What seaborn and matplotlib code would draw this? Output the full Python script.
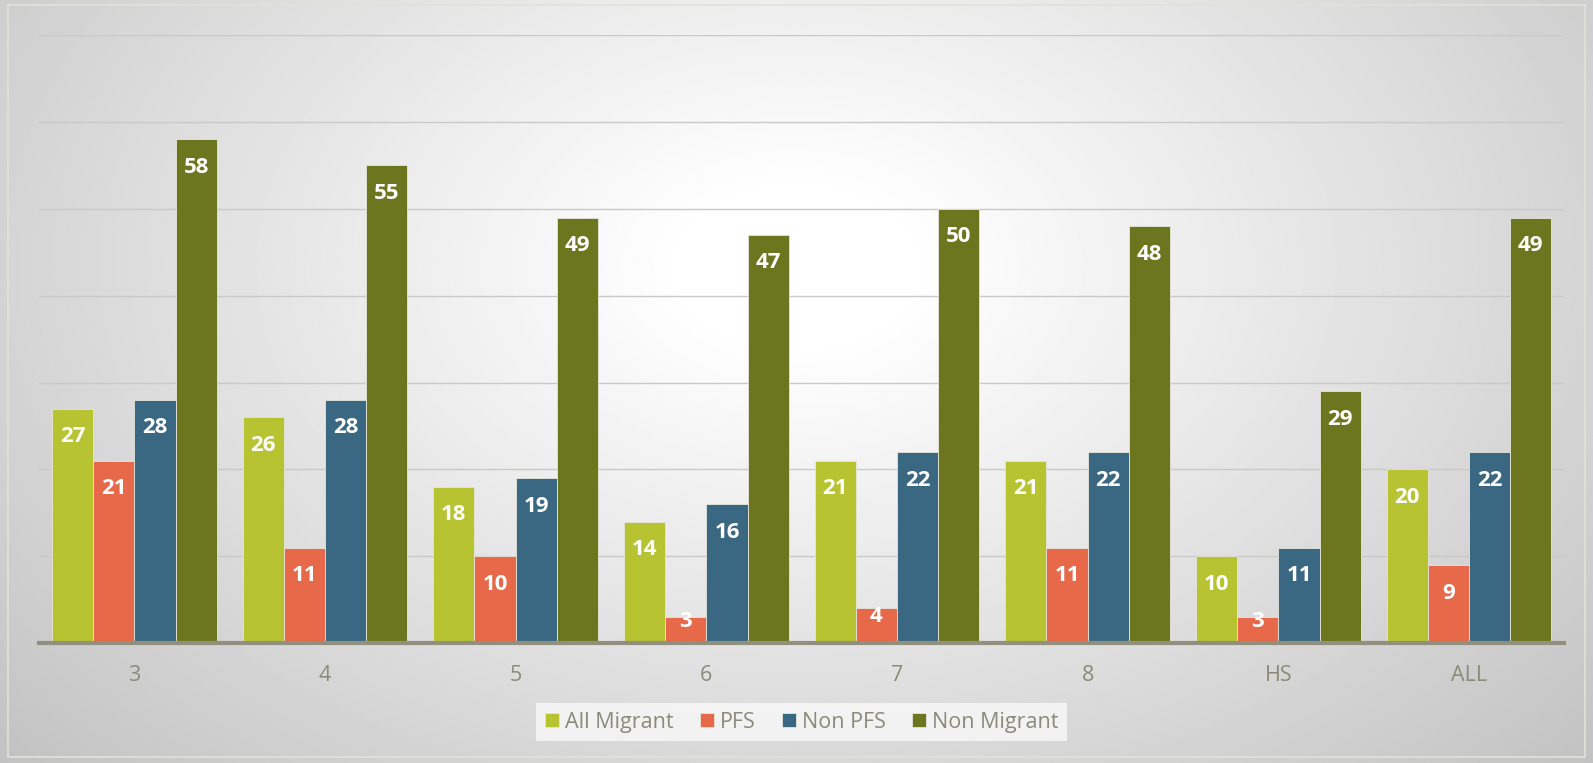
import numpy as np
import pandas as pd
import matplotlib.pyplot as plt
import seaborn as sns
from matplotlib.patches import Rectangle

grades = ['3', '4', '5', '6', '7', '8', 'HS', 'ALL']
series = ['All Migrant', 'PFS', 'Non PFS', 'Non Migrant']
all_migrant = [27, 26, 18, 14, 21, 21, 10, 20]
pfs = [21, 11, 10, 3, 4, 11, 3, 9]
non_pfs = [28, 28, 19, 16, 22, 22, 11, 22]
non_migrant = [58, 55, 49, 47, 50, 48, 29, 49]
colors = ['#B8C332', '#E8694A', '#3A6883', '#6C761E']

rows = []
for name, vals in zip(series, [all_migrant, pfs, non_pfs, non_migrant]):
    for g, v in zip(grades, vals):
        rows.append({'grade': g, 'series': name, 'value': v})
df = pd.DataFrame(rows)

sns.set_style('white')
plt.rcParams['font.family'] = ['Open Sans', 'DejaVu Sans']

fig = plt.figure(figsize=(15.93, 7.63), dpi=100)

# radial gradient background
bg = fig.add_axes([0, 0, 1, 1], zorder=-10)
yy, xx = np.mgrid[0:1:400j, 0:1:800j]
d = np.sqrt(((xx - 0.5) / 0.6) ** 2 + ((yy - 0.35) / 0.85) ** 2)
img = np.clip(262 - 60 * d, 190, 255)
bg.imshow(img, cmap='gray', vmin=0, vmax=255, aspect='auto', extent=[0, 1, 1, 0])
bg.set_xlim(0, 1)
bg.set_ylim(1, 0)
bg.axis('off')
fig.patches.append(Rectangle((0.005, 0.008), 0.99, 0.985, transform=fig.transFigure,
                             fill=False, edgecolor='#E2E2DA', linewidth=1.2))

ax = fig.add_axes([0.0245, 0.157, 0.9575, 0.797])
ax.set_facecolor('none')
sns.barplot(data=df, x='grade', y='value', hue='series', palette=colors,
            saturation=1, width=0.865, gap=0, edgecolor='#E6E6DC', linewidth=0.6,
            ax=ax, legend=True, zorder=3)

ax.set_ylim(0, 70)
ax.set_yticks(range(10, 71, 10))
ax.yaxis.grid(True, color='#C9C9C6', linewidth=1.0, zorder=0)
ax.set_axisbelow(True)
ax.tick_params(axis='y', left=False, labelleft=False)
ax.tick_params(axis='x', bottom=False, labelsize=15.5, labelcolor='#8C8A78', pad=12)
ax.set_xlabel('')
ax.set_ylabel('')
for s in ['top', 'right', 'left']:
    ax.spines[s].set_visible(False)
ax.spines['bottom'].set_color('#918F7E')
ax.spines['bottom'].set_linewidth(3)
ax.spines['bottom'].set_zorder(5)

# data labels, inside end
px_per_unit = 0.797 * 763 / 70
for cont in ax.containers:
    for bar in cont:
        h = bar.get_height()
        hpx = h * px_per_unit
        off = min(28, hpx / 2 - 9)
        ax.annotate(f'{int(round(h))}', (bar.get_x() + bar.get_width() / 2, h),
                    xytext=(0, -off * 0.72), textcoords='offset points',
                    ha='center', va='center', color='white', fontsize=16,
                    fontweight='bold', zorder=6)

handles, labels = ax.get_legend_handles_labels()
ax.legend(handles, labels, loc='center', bbox_to_anchor=(0.5, -0.13), ncol=4,
          frameon=True, fontsize=15.5, labelcolor='#8C8A78', handlelength=0.65,
          handleheight=0.65, handletextpad=0.3, columnspacing=1.2,
          facecolor='#F7F7F7', edgecolor='none', framealpha=0.85, fancybox=False)

fig.savefig('out.png', dpi=100)
